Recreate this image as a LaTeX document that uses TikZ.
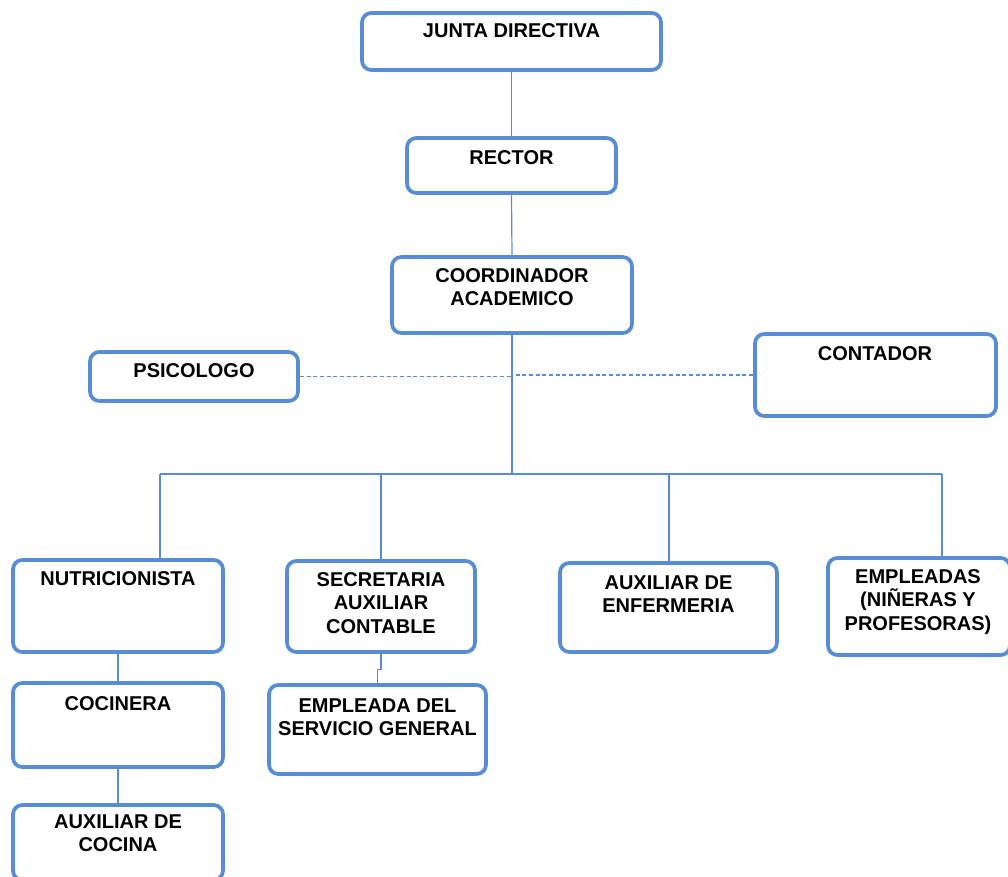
\documentclass[tikz,border=0pt]{standalone}
\usepackage{fontspec}
\setmainfont{Liberation Sans}
\usetikzlibrary{fit,calc}
\definecolor{bl}{RGB}{88,140,212}
\begin{document}
\begin{tikzpicture}[x=0.75pt,y=-0.75pt,
  box/.style={draw=bl,line width=2.8pt,rounded corners=7pt,inner sep=0pt,fill=white},
  lbl/.style={font=\bfseries\fontsize{15}{17.5}\selectfont,align=center,inner sep=0pt},
  con/.style={draw=bl,line width=0.9pt},
  dsh/.style={draw=bl,line width=0.9pt,dash pattern=on 3pt off 2pt}]
\useasboundingbox (0,0) rectangle (1008,877);
\coordinate (bus) at (512,474);
\coordinate (b1) at (160,474);
\coordinate (b2) at (381,474);
\coordinate (b3) at (669,474);
\coordinate (b4) at (942,474);
% boxes
\node[box,fit={(362,13)(661,70)}] (jd) {};
\node[box,fit={(407,138)(616,193)}] (rc) {};
\node[box,fit={(392,257)(632,333)}] (co) {};
\node[box,fit={(90,352)(298,401)}] (ps) {};
\node[box,fit={(755,334)(996,416)}] (ct) {};
\node[box,fit={(13,560)(223,652)}] (nu) {};
\node[box,fit={(287,561)(475,652)}] (se) {};
\node[box,fit={(560,563)(777,652)}] (ae) {};
\node[box,fit={(828,558)(1010,655)}] (ep) {};
\node[box,fit={(13,683)(223,767)}] (cc) {};
\node[box,fit={(269,685)(486,774)}] (es) {};
\node[box,fit={(13,805)(223,880)}] (ac) {};
% connectors
\draw[con] (jd.south) -- (rc.north);
\draw[con] (rc.south) -- (co.north);
\draw[con] (co.south) -- (bus);
\draw[con] (b1) -- (b4);
\draw[con] (b1) -- (b1 |- nu.north);
\draw[con] (b2) -- (b2 |- se.north);
\draw[con] (b3) -- (b3 |- ae.north);
\draw[con] (b4) -- (b4 |- ep.north);
\draw[dsh] (ps.east) -- (ps.east -| co.south);
\draw[dsh] (ct.west) -- (ct.west -| co.south);
\draw[con] (nu.south) -- (cc.north);
\draw[con] (cc.south) -- (ac.north);
\draw[con] (se.south) -- ++(0,16) -| (es.north);
% labels
\node[lbl] (t1) at (511.5,31) {JUNTA DIRECTIVA};
\node[lbl] (t2) at (511.5,158) {RECTOR};
\node[lbl] (t3) at (512,287) {COORDINADOR\\ACADEMICO};
\node[lbl] (t4) at (194,371) {PSICOLOGO};
\node[lbl] (t5) at (875,354) {CONTADOR};
\node[lbl] (t6) at (118,579) {NUTRICIONISTA};
\node[lbl] (t7) at (381,603) {SECRETARIA\\AUXILIAR\\CONTABLE};
\node[lbl] (t8) at (668.5,594) {AUXILIAR DE\\ENFERMERIA};
\node[lbl] (t9) at (918,602) {EMPLEADAS\\(NIÑERAS Y\\PROFESORAS)};
\node[lbl] (t10) at (118,704) {COCINERA};
\node[lbl] (t11) at (377.5,717) {EMPLEADA DEL\\SERVICIO GENERAL};
\node[lbl] (t12) at (118,833) {AUXILIAR DE\\COCINA};
\end{tikzpicture}
\end{document}
